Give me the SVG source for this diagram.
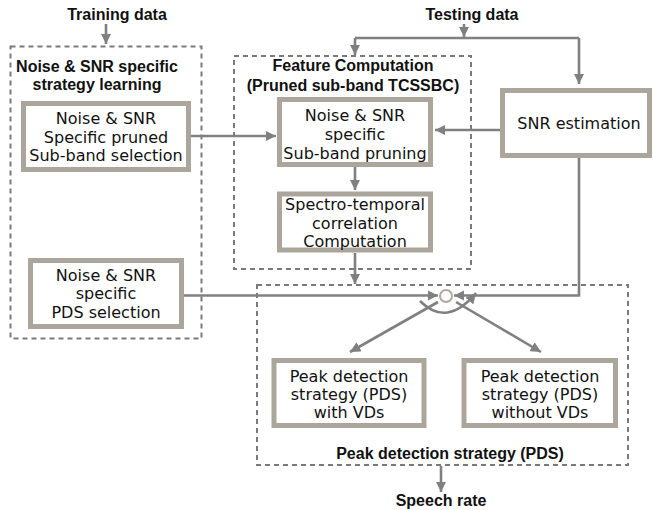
<svg xmlns="http://www.w3.org/2000/svg" width="654" height="510" viewBox="0 0 654 510">
<style>
.b{font-family:"Liberation Sans",Arial,sans-serif;font-weight:bold;font-size:16px;fill:#111;text-anchor:middle}
.t{font-family:"DejaVu Sans",sans-serif;font-size:16px;fill:#111;text-anchor:middle}
.box{fill:#fff;stroke:#aca59c;stroke-width:5}
.grp{fill:none;stroke:#7a7a7a;stroke-width:2;stroke-dasharray:5,4}
.c{fill:none;stroke:#808080;stroke-width:2.6}
</style>
<defs>
<marker id="a" viewBox="0 0 10 10" refX="10" refY="5" markerWidth="4" markerHeight="4" orient="auto" markerUnits="strokeWidth">
<path d="M0,0 L10,5 L0,10 z" fill="#808080"/>
</marker>
</defs>
<rect width="654" height="510" fill="#fff"/>

<g id="groups">
<rect class="grp" x="10.5" y="46.5" width="191" height="292"/>
<rect class="grp" x="234" y="56" width="237" height="213"/>
<rect class="grp" x="257" y="285" width="371" height="180"/>
</g>

<g id="labels">
<text class="b" x="117" y="19.5">Training data</text>
<text class="b" x="472" y="19.5">Testing data</text>
<text class="b" x="97" y="72">Noise &amp; SNR specific</text>
<text class="b" x="97" y="89.5">strategy learning</text>
<text class="b" x="353" y="70.5">Feature Computation</text>
<text class="b" x="353" y="90.5">(Pruned sub-band TCSSBC)</text>
<text class="b" x="450" y="458.5">Peak detection strategy (PDS)</text>
<text class="b" x="441" y="505.5">Speech rate</text>
</g>

<g id="connectors">
<line class="c" x1="106" y1="24" x2="106" y2="44" marker-end="url(#a)"/>
<line class="c" x1="464" y1="24" x2="464" y2="37" marker-end="url(#a)"/>
<polyline class="c" points="355,38 579,38"/>
<line class="c" x1="355" y1="38" x2="355" y2="55" marker-end="url(#a)"/>
<line class="c" x1="579" y1="38" x2="579" y2="84" marker-end="url(#a)"/>
<line class="c" x1="191" y1="136" x2="276" y2="136" marker-end="url(#a)"/>
<line class="c" x1="500" y1="130" x2="435" y2="130" marker-end="url(#a)"/>
<line class="c" x1="355" y1="167" x2="355" y2="190" marker-end="url(#a)"/>
<line class="c" x1="355" y1="253" x2="355" y2="284" marker-end="url(#a)"/>
<line class="c" x1="184" y1="295.5" x2="438" y2="295.5" marker-end="url(#a)"/>
<polyline class="c" points="579,158 579,295.5 454,295.5" marker-end="url(#a)"/>
<path class="c" d="M420,301 Q447,328 476,293" marker-end="url(#a)"/>
<line class="c" x1="438" y1="302" x2="350" y2="352" marker-end="url(#a)"/>
<line class="c" x1="456" y1="302" x2="541" y2="352" marker-end="url(#a)"/>
<line class="c" x1="441" y1="466" x2="441" y2="492" marker-end="url(#a)"/>
</g>
<circle id="switch" cx="446" cy="296" r="6" fill="#fff" stroke="#b0a89e" stroke-width="2"/>

<g id="n1">
<rect class="box" x="23.5" y="103.5" width="165" height="66"/>
<text class="t" x="106" y="124">Noise &amp; SNR</text>
<text class="t" x="106" y="142.5">Specific pruned</text>
<text class="t" x="106" y="161">Sub-band selection</text>
</g>
<g id="n2">
<rect class="box" x="30.5" y="260.5" width="151" height="66"/>
<text class="t" x="106" y="281">Noise &amp; SNR</text>
<text class="t" x="106" y="299">specific</text>
<text class="t" x="106" y="318">PDS selection</text>
</g>
<g id="n3">
<rect class="box" x="279.5" y="99.5" width="151" height="65"/>
<text class="t" x="355" y="121">Noise &amp; SNR</text>
<text class="t" x="355" y="140">specific</text>
<text class="t" x="355" y="159">Sub-band pruning</text>
</g>
<g id="n4">
<rect class="box" x="279.5" y="194" width="151" height="56"/>
<text class="t" x="355" y="210">Spectro-temporal</text>
<text class="t" x="355" y="229">correlation</text>
<text class="t" x="355" y="247">Computation</text>
</g>
<g id="n5">
<rect class="box" x="502.5" y="90.5" width="147" height="65"/>
<text class="t" x="579" y="129">SNR estimation</text>
</g>
<g id="n6">
<rect class="box" x="274" y="360.5" width="150" height="65"/>
<text class="t" x="349" y="382">Peak detection</text>
<text class="t" x="349" y="400">strategy (PDS)</text>
<text class="t" x="349" y="418">with VDs</text>
</g>
<g id="n7">
<rect class="box" x="464" y="360.5" width="151.5" height="65"/>
<text class="t" x="540" y="382">Peak detection</text>
<text class="t" x="540" y="400">strategy (PDS)</text>
<text class="t" x="540" y="418">without VDs</text>
</g>
</svg>
